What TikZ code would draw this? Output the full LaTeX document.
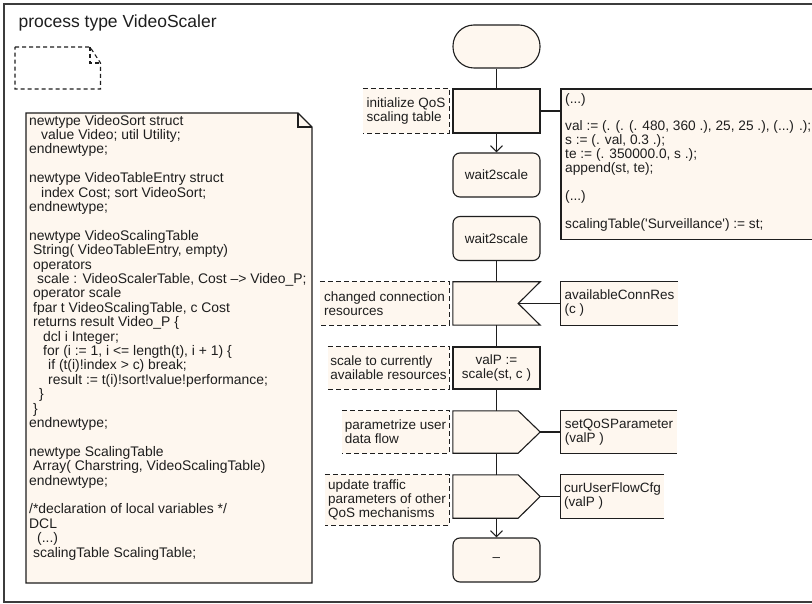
\documentclass[tikz,border=0pt]{standalone}
\usepackage{fontspec}
\setmainfont{Liberation Sans}
\usetikzlibrary{arrows.meta,calc}
\definecolor{cream}{RGB}{254,247,239}
\definecolor{ink}{RGB}{30,30,30}
\definecolor{framec}{RGB}{60,60,60}
\newcommand\ind[1]{\hspace*{#1pt}}
\begin{document}
\begin{tikzpicture}[x=1pt,y=-1pt,
  every node/.style={font=\fontsize{13.5}{14}\selectfont,text=ink},
  ln/.style={draw=ink,line width=1.1pt},
  symfill/.style={ln,fill=cream},
  task/.style={symfill,rectangle,minimum width=87pt,minimum height=44pt,inner sep=0pt,align=center},
  statesym/.style={task,rounded corners=7pt},
  startsym/.style={task,rounded corners=21pt},
  blank/.style={rectangle,minimum width=87pt,inner sep=0pt},
  cmt/.style={rectangle,fill=cream,inner sep=0pt,align=left},
  ext/.style={rectangle,fill=cream,inner sep=0pt,align=left},
  notebox/.style={rectangle,fill=cream,inner xsep=4pt,inner ysep=4pt},
  cmtline/.style={draw=ink,line width=1.1pt,dash pattern=on 5pt off 3pt},
  pagedash/.style={draw=ink,line width=1.1pt,dash pattern=on 4pt off 3pt},
  conn/.style={ln},
  arr/.style={ln,-{Straight Barb[length=6pt,width=12pt]}},
]
\useasboundingbox (0,0) rectangle (812,604);
\clip (0,0) rectangle (812,604);
\fill[white] (0,0) rectangle (812,604);
\draw[draw=framec,line width=2pt] (830,4) -- (4,4) -- (4,602) -- (830,602);

\node[anchor=base west,font=\fontsize{17.5}{20}\selectfont] (title) at (15,28) {process type VideoScaler};

% dashed text symbol
\draw[pagedash] (15,47) -- (90,47) -- (100.5,63) -- (100.5,89) -- (15,89) -- cycle;
\draw[pagedash] (90,47) -- (90,63) -- (100.5,63);

% big declaration note
\filldraw[symfill] (26,113) -- (298,113) -- (312,127) -- (312,583) -- (26,583) -- cycle;
\draw[ln] (298,113) -- (298,127) -- (312,127);
\node[anchor=north west,inner xsep=3pt,inner ysep=1.8pt] (types) at (26,113) {\parbox[t]{282pt}{\raggedright\fontsize{13.9}{14.4}\selectfont
newtype VideoSort struct\\
\ind{12}value Video; util Utility;\\
endnewtype;\\
\mbox{}\\
newtype VideoTableEntry struct\\
\ind{12}index Cost; sort VideoSort;\\
endnewtype;\\
\mbox{}\\
newtype VideoScalingTable\\
\ind{4}String( VideoTableEntry, empty)\\
\ind{4}operators\\
\ind{8}scale : VideoScalerTable, Cost –> Video\_P;\\
\ind{4}operator scale\\
\ind{4}fpar t VideoScalingTable, c Cost\\
\ind{4}returns result Video\_P \{\\
\ind{14}dcl i Integer;\\
\ind{14}for (i := 1, i <= length(t), i + 1) \{\\
\ind{19}if (t(i)!index > c) break;\\
\ind{19}result := t(i)!sort!value!performance;\\
\ind{10}\}\\
\ind{4}\}\\
endnewtype;\\
\mbox{}\\
newtype ScalingTable\\
\ind{4}Array( Charstring, VideoScalingTable)\\
endnewtype;\\
\mbox{}\\
/*declaration of local variables */\\
DCL\\
\ind{8}(...)\\
\ind{4}scalingTable ScalingTable;}};

% flowchart symbols
\node[startsym,minimum height=43pt] (start) at (496.5,46.5) {};
\node[task] (init) at (496.5,111) {};
\node[statesym] (w1) at (496.5,175) {wait2scale};
\node[statesym] (w2) at (496.5,238.5) {wait2scale};
\node[blank,minimum height=43pt] (in) at (496.5,303.5) {};
\filldraw[symfill] (in.north west) -- (in.north east) -- ($(in.east)+(-22,0)$) -- (in.south east) -- (in.south west) -- cycle;
\node[task,minimum height=42pt] (calc) at (496.5,368) {valP :=\\scale(st, c )};
\node[blank,minimum height=42pt] (o1) at (496.5,432) {};
\filldraw[symfill] (o1.north west) -- ($(o1.north east)+(-22,0)$) -- (o1.east) -- ($(o1.south east)+(-22,0)$) -- (o1.south west) -- cycle;
\node[blank,minimum height=43pt] (o2) at (496.5,496.5) {};
\filldraw[symfill] (o2.north west) -- ($(o2.north east)+(-22,0)$) -- (o2.east) -- ($(o2.south east)+(-22,0)$) -- (o2.south west) -- cycle;
\node[statesym] (end) at (496.5,560) {–};

% connectors
\draw[conn] (start) -- (init);
\draw[arr] (init) -- (w1);
\draw[conn] (w2) -- (in);
\draw[conn] (in) -- (calc);
\draw[conn] (calc) -- (o1);
\draw[conn] (o1) -- (o2);
\draw[arr] (o2) -- (end);

% code note on the right
\node[notebox,anchor=north west] (code) at (561,89) {\parbox[t][142pt][t]{262pt}{\raggedright\fontsize{13.7}{13.9}\selectfont
(...)\\
\mbox{}\\
val := (. (. (. 480, 360 .), 25, 25 .), (...) .);\\
s := (. val, 0.3 .);\\
te := (. 350000.0, s .);\\
append(st, te);\\
\mbox{}\\
(...)\\
\mbox{}\\
scalingTable(\textquotesingle Surveillance\textquotesingle) := st;}};
\draw[ln] (code.north east) -- (code.north west) -- (code.south west) -- (code.south east);
\draw[conn] (init.east) -- (init.east -| code.west);

% signal text extensions
\node[ext,minimum width=117pt,minimum height=43pt] (avail) at (619.5,303.5) {availableConnRes\\(c )};
\draw[ln] (avail.north east) -- (avail.north west) -- (avail.south west) -- (avail.south east);
\draw[conn] ($(in.east)+(-22,0)$) -- (avail.west);

\node[ext,minimum width=116pt,minimum height=42pt] (setq) at (619,432) {setQoSParameter\\(valP )};
\draw[ln] (setq.north east) -- (setq.north west) -- (setq.south west) -- (setq.south east);
\draw[conn] (o1.east) -- (setq.west);

\node[ext,minimum width=103pt,minimum height=43pt] (cur) at (612.5,496.5) {curUserFlowCfg\\(valP )};
\draw[ln] (cur.north east) -- (cur.north west) -- (cur.south west) -- (cur.south east);
\draw[conn] (o2.east) -- (cur.west);

% comments
\node[cmt,minimum width=86pt,minimum height=44pt] (c1) at (406,111) {initialize QoS\\scaling table};
\draw[cmtline] (c1.north west) -- (c1.north east) -- (c1.south east) -- (c1.south west);
\node[cmt,minimum width=129pt,minimum height=43pt] (c2) at (384.5,303.5) {changed connection\\resources};
\draw[cmtline] (c2.north west) -- (c2.north east) -- (c2.south east) -- (c2.south west);
\node[cmt,minimum width=121pt,minimum height=42pt] (c3) at (388.5,368) {scale to currently\\available resources};
\draw[cmtline] (c3.north west) -- (c3.north east) -- (c3.south east) -- (c3.south west);
\node[cmt,minimum width=107pt,minimum height=42pt] (c4) at (395.5,432) {parametrize user\\data flow};
\draw[cmtline] (c4.north west) -- (c4.north east) -- (c4.south east) -- (c4.south west);
\node[cmt,minimum width=124pt,minimum height=50pt] (c5) at (387,500) {update traffic\\parameters of other\\QoS mechanisms};
\draw[cmtline] (c5.north west) -- (c5.north east) -- (c5.south east) -- (c5.south west);
\end{tikzpicture}
\end{document}
